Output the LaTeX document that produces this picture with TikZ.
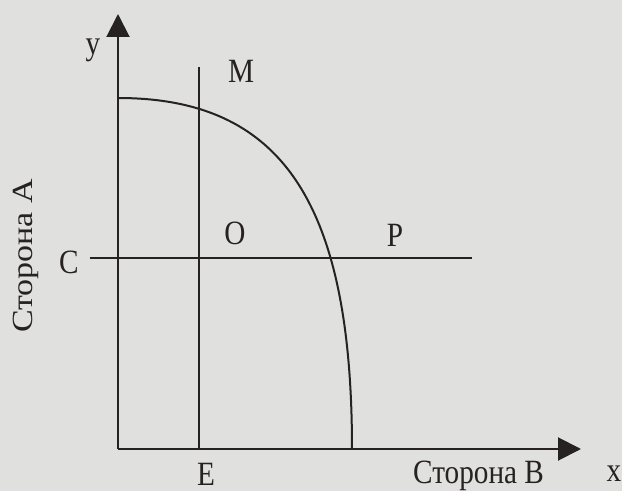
\documentclass[tikz,border=0pt]{standalone}
\usepackage{fontspec}
\setmainfont{Liberation Serif}
\usepackage{graphicx}
\usetikzlibrary{arrows.meta}
\definecolor{bg}{RGB}{224,224,222}
\definecolor{ink}{RGB}{38,34,34}
\tikzset{
  ln/.style={line width=2pt, draw=ink},
  ax/.style={ln, -{Triangle[length=23pt,width=23pt]}},
  lbl/.style={inner sep=0pt, text=ink, font=\fontsize{34}{36}\selectfont},
}
\newcommand{\sq}[1]{\scalebox{0.86}[1]{#1}}
\begin{document}
\begin{tikzpicture}[x=1pt,y=1pt]
\fill[bg] (0,0) rectangle (622,491);
\useasboundingbox (0,0) rectangle (622,491);
\coordinate (o) at (118,42);
\coordinate (ytop) at (118,477);
\coordinate (xend) at (581,42);
\coordinate (mtop) at (199,424);
\coordinate (mbot) at (199,42);
\coordinate (cl) at (90,233);
\coordinate (cr) at (472,233);
\coordinate (ctop) at (118,393);
\coordinate (cbot) at (352,42);
\draw[ln] (cl) -- (cr);
\draw[ln] (mtop) -- (mbot);
\draw[ln] (ctop) .. controls (280,393) and (352,291) .. (cbot);
\draw[ax] (o) -- (ytop);
\draw[ax] (o) -- (xend);
\node[lbl, anchor=base] (ly) at (93,436) {\sq{y}};
\node[lbl, anchor=base] (lm) at (241,408) {\sq{M}};
\node[lbl, anchor=base] (lo) at (235,246) {\sq{O}};
\node[lbl, anchor=base] (lp) at (395,244) {\sq{P}};
\node[lbl, anchor=base] (lc) at (69,217) {\sq{C}};
\node[lbl, anchor=base] (le) at (206,6) {\sq{E}};
\node[lbl, anchor=base] (lx) at (614,10) {\sq{x}};
\node[lbl, anchor=base west] (lb) at (413,8) {\sq{Сторона B}};
\node[lbl, anchor=base, rotate=90] (la) at (32,235) {\scalebox{1}[0.86]{Сторона A}};
\end{tikzpicture}
\end{document}
